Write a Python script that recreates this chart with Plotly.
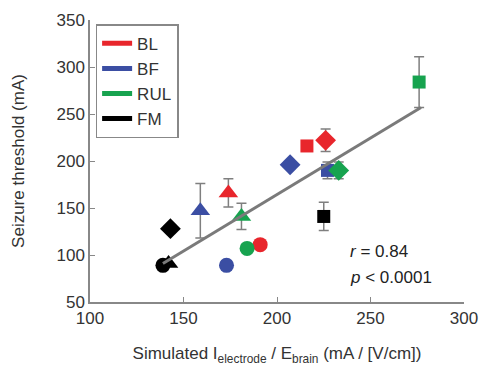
import plotly.graph_objects as go

groups = ["BL", "BF", "RUL", "FM"]
colors = ["#e8262c", "#3b4ea3", "#17a34f", "#000000"]
symbols = ["circle", "triangle-up", "square", "diamond"]

# per group: values in order circle, triangle, square, diamond
bl_x = [191, 174, 216, 226]
bl_y = [111, 166, 216, 222]
bl_err = [0, 15, 0, 12]

bf_x = [173, 159, 227, 207]
bf_y = [89, 147, 190, 196]
bf_err = [0, 29, 9, 0]

rul_x = [184, 181, 276, 233]
rul_y = [107, 141, 284, 190]
rul_err = [0, 14, 27, 9]

fm_x = [139, 142, 225, 143]
fm_y = [89, 91, 141, 128]
fm_err = [0, 0, 15, 0]

fit_x = [139, 277]
fit_y = [91, 257]

xs = [bl_x, bf_x, rul_x, fm_x]
ys = [bl_y, bf_y, rul_y, fm_y]
errs = [bl_err, bf_err, rul_err, fm_err]
sizes = {"circle": 15, "triangle-up": 17, "square": 13, "diamond": 16}

fig = go.Figure()

# error bars (gray), drawn beneath
for g in range(4):
    for i, s in enumerate(symbols):
        if errs[g][i] > 0:
            fig.add_trace(go.Scatter(
                x=[xs[g][i]], y=[ys[g][i]], mode="markers",
                marker=dict(size=1, color="rgba(0,0,0,0)"),
                error_y=dict(type="data", array=[errs[g][i]], color="#7f7f7f",
                             thickness=1.5, width=5),
                showlegend=False, hoverinfo="skip"))

# markers (FM triangle first so circle sits on top)
order = [(3, 1)] + [(g, i) for g in range(4) for i in range(4) if (g, i) != (3, 1)]
for g, i in order:
    fig.add_trace(go.Scatter(
        x=[xs[g][i]], y=[ys[g][i]], mode="markers",
        marker=dict(symbol=symbols[i], size=sizes[symbols[i]], color=colors[g],
                    line=dict(width=0)),
        showlegend=False))

# regression line
fig.add_trace(go.Scatter(x=fit_x, y=fit_y, mode="lines",
                         line=dict(color="#7a7a7a", width=3), showlegend=False))

# legend entries
for g in range(4):
    fig.add_trace(go.Scatter(x=[None], y=[None], mode="lines", name=groups[g],
                             line=dict(color=colors[g], width=5)))

fig.add_annotation(x=238, y=104, xref="x", yref="y", xanchor="left",
                   text="<i>r</i> = 0.84", showarrow=False,
                   font=dict(size=17, color="#222"))
fig.add_annotation(x=238, y=76, xref="x", yref="y", xanchor="left",
                   text="<i>p</i> < 0.0001", showarrow=False,
                   font=dict(size=17, color="#222"))

fig.update_layout(
    width=483, height=366,
    margin=dict(l=90, r=19, t=20, b=64, autoexpand=False),
    plot_bgcolor="white", paper_bgcolor="white",
    font=dict(family="Liberation Sans, Arial, sans-serif", size=16, color="#333"),
    legend=dict(x=0.015, y=0.985, xanchor="left", yanchor="top",
                bordercolor="#888", borderwidth=1.5, bgcolor="white",
                font=dict(size=17, color="#333"), itemwidth=30,
                tracegroupgap=0),
    xaxis=dict(range=[100, 300], tickvals=[100, 150, 200, 250, 300],
               ticks="inside", ticklen=5, tickcolor="#888",
               showline=True, linecolor="#888", linewidth=1.5,
               showgrid=False, zeroline=False, automargin=False,
               tickfont=dict(size=17, color="#333"),
               title=dict(text="Simulated I<sub>electrode</sub> / E<sub>brain</sub> (mA / [V/cm])",
                          font=dict(size=17, color="#333"), standoff=22)),
    yaxis=dict(range=[50, 350], tickvals=[50, 100, 150, 200, 250, 300, 350],
               ticks="inside", ticklen=5, tickcolor="#888",
               showline=True, linecolor="#888", linewidth=1.5,
               showgrid=False, zeroline=False, automargin=False,
               tickfont=dict(size=17, color="#333"),
               title=dict(text="Seizure threshold (mA)",
                          font=dict(size=17, color="#333"), standoff=28)),
)

fig.write_html("out.html", config={"displayModeBar": False},
               post_script="document.body.style.margin='0';document.body.style.overflow='hidden';")
